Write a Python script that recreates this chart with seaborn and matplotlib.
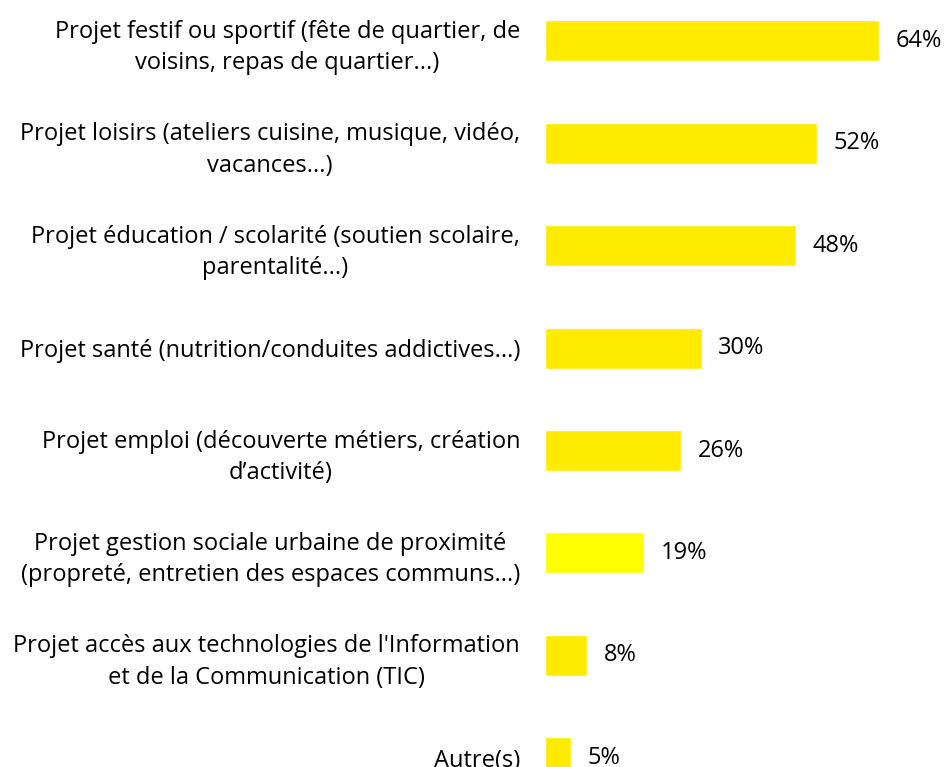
import pandas as pd
import matplotlib.pyplot as plt
import seaborn as sns

# Data
categories = [
    "Projet festif ou sportif (fête de quartier, de\nvoisins, repas de quartier...)",
    "Projet loisirs (ateliers cuisine, musique, vidéo,\nvacances...)",
    "Projet éducation / scolarité (soutien scolaire,\nparentalité...)",
    "Projet santé (nutrition/conduites addictives...)",
    "Projet emploi (découverte métiers, création\nd’activité)",
    "Projet gestion sociale urbaine de proximité\n(propreté, entretien des espaces communs...)",
    "Projet accès aux technologies de l'Information\net de la Communication (TIC)",
    "Autre(s)",
]
values = [64, 52, 48, 30, 26, 19, 8, 5]
bar_colors = ["#FFEB00", "#FFEB00", "#FFEB00", "#FFEB00", "#FFEB00",
              "#FFFF00", "#FFEB00", "#FFEB00"]

df = pd.DataFrame({"categorie": categories, "pct": values})

sns.set_style("white")
plt.rcParams['font.family'] = ['Open Sans', 'DejaVu Sans']

fig = plt.figure(figsize=(9.46, 7.67), dpi=100)
ax = fig.add_axes([545 / 946, 0, 401 / 946, 1])

sns.barplot(data=df, x="pct", y="categorie", hue="categorie",
            palette=bar_colors, width=0.4, legend=False, ax=ax,
            saturation=1)

for i, v in enumerate(values):
    ax.text(v + 3.2, i, f"{v}%", va="center", ha="left", fontsize=17,
            color="black")

ax.set_xlim(0, 76.8)
ax.set_ylim(7.09, -0.40)
ax.set_xlabel("")
ax.set_ylabel("")
ax.set_xticks([])
ax.tick_params(axis="y", length=0, pad=18, labelsize=17, labelcolor="black")
for lbl in ax.get_yticklabels():
    lbl.set_multialignment("center")
    lbl.set_linespacing(1.4)
sns.despine(ax=ax, left=True, bottom=True)

fig.savefig("out.png", dpi=100)
